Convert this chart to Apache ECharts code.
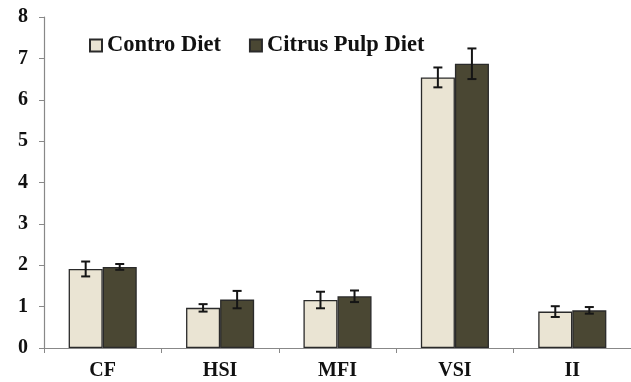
<!DOCTYPE html>
<html><head><meta charset="utf-8">
<script src="https://cdn.jsdelivr.net/npm/echarts@6/dist/echarts.min.js"></script>
<style>html,body{margin:0;padding:0;background:#fff}#c{width:631px;height:382px}</style>
</head><body><div id="c"></div>
<script>
const categories = ['CF', 'HSI', 'MFI', 'VSI', 'II'];
const controlValues = [1.91, 0.97, 1.16, 6.54, 0.88];
const controlErrors = [0.18, 0.09, 0.20, 0.24, 0.13];
const citrusValues = [1.96, 1.17, 1.25, 6.87, 0.91];
const citrusErrors = [0.07, 0.21, 0.14, 0.37, 0.08];
const seriesNames = ['Contro Diet', 'Citrus Pulp Diet'];
const yTicks = [0, 1, 2, 3, 4, 5, 6, 7, 8];

const colors = ['#EAE4D3', '#4A4733'];
const font = 'Liberation Serif, Times New Roman, serif';
const catGap = 0.42;

function errData(vals, errs) {
  return vals.map((v, i) => [i, v, errs[i]]);
}
function errRender(side) {
  return function (params, api) {
    const i = api.value(0), v = api.value(1), e = api.value(2);
    const catW = api.size([1, 0])[0];
    const bw = catW * (1 - catGap) / 2;
    const c = api.coord([i, v]);
    const x = c[0] + side * bw / 2;
    const top = api.coord([i, v + e])[1];
    const bot = api.coord([i, v - e])[1];
    const cap = 4.5;
    const st = { stroke: '#151515', lineWidth: 2 };
    return { type: 'group', children: [
      { type: 'line', shape: { x1: x, y1: top, x2: x, y2: bot }, style: st },
      { type: 'line', shape: { x1: x - cap, y1: top, x2: x + cap, y2: top }, style: st },
      { type: 'line', shape: { x1: x - cap, y1: bot, x2: x + cap, y2: bot }, style: st }
    ]};
  };
}

const chart = echarts.init(document.getElementById('c'));
chart.setOption({
  animation: false,
  backgroundColor: '#fff',
  grid: { left: 44, right: -2, top: 17, bottom: 34 },
  legend: {
    left: 89, top: 34, padding: 0, itemWidth: 12, itemHeight: 12, itemGap: 28,
    icon: 'rect',
    data: seriesNames,
    textStyle: { fontFamily: font, fontWeight: 'bold', fontSize: 22.5, color: '#111' }
  },
  xAxis: {
    type: 'category', data: categories,
    axisLine: { lineStyle: { color: '#888', width: 1.2 } },
    axisTick: { show: true, length: 5, lineStyle: { color: '#888' } },
    axisLabel: { fontFamily: font, fontWeight: 'bold', fontSize: 20, color: '#111', margin: 13 }
  },
  yAxis: {
    type: 'value', min: yTicks[0], max: yTicks[yTicks.length - 1], interval: 1,
    axisLine: { show: true, lineStyle: { color: '#888', width: 1.2 } },
    axisTick: { show: true, length: 5, lineStyle: { color: '#888' } },
    splitLine: { show: false },
    axisLabel: { fontFamily: font, fontWeight: 'bold', fontSize: 20, color: '#111', margin: 16 }
  },
  series: [
    { name: seriesNames[0], type: 'bar', data: controlValues, barGap: '0%', barCategoryGap: (catGap * 100) + '%',
      itemStyle: { color: colors[0], borderColor: '#2a2a2a', borderWidth: 1.3 } },
    { name: seriesNames[1], type: 'bar', data: citrusValues, barGap: '0%', barCategoryGap: (catGap * 100) + '%',
      itemStyle: { color: colors[1], borderColor: '#2a2a2a', borderWidth: 1.3 } },
    { type: 'custom', renderItem: errRender(-1), data: errData(controlValues, controlErrors), z: 10,
      encode: { x: 0, y: 1 } },
    { type: 'custom', renderItem: errRender(1), data: errData(citrusValues, citrusErrors), z: 10,
      encode: { x: 0, y: 1 } }
  ]
});
</script></body></html>
